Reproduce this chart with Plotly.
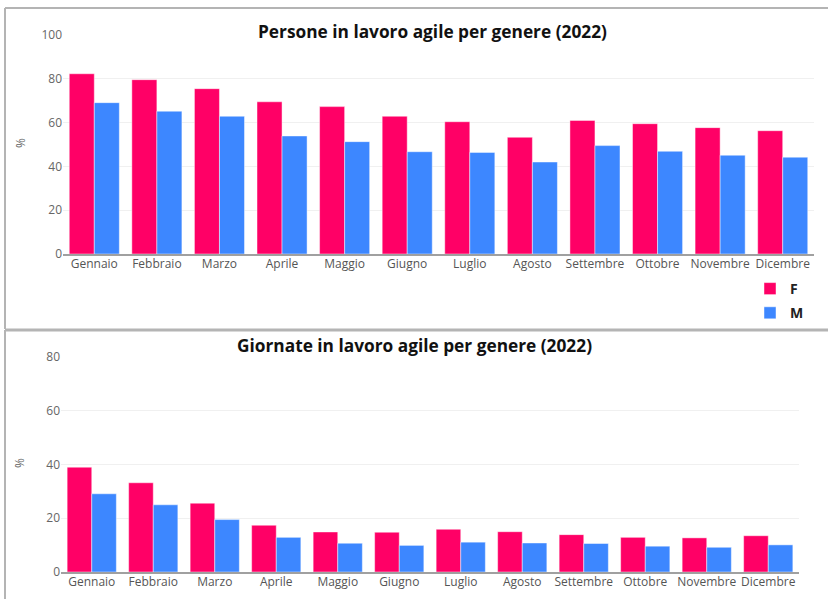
import plotly.graph_objects as go

# Dati
mesi = ["Gennaio", "Febbraio", "Marzo", "Aprile", "Maggio", "Giugno",
        "Luglio", "Agosto", "Settembre", "Ottobre", "Novembre", "Dicembre"]

persone_f = [82.3, 79.6, 75.5, 69.5, 67.3, 62.9, 60.4, 53.3, 61.0, 59.5, 57.7, 56.3]
persone_m = [69.1, 65.2, 62.9, 53.9, 51.3, 46.7, 46.4, 42.0, 49.5, 46.9, 45.1, 44.2]

giornate_f = [39.0, 33.2, 25.6, 17.4, 14.9, 14.8, 15.9, 15.0, 13.9, 12.9, 12.7, 13.5]
giornate_m = [29.1, 25.0, 19.5, 12.9, 10.7, 9.9, 11.1, 10.8, 10.6, 9.6, 9.2, 10.1]

COL_F = "#FF0066"
COL_M = "#3D87FF"
W, H = 828, 599


def px_x(p):
    return p / W


def px_y(p):
    return 1 - p / H


fig = go.Figure()

bar_line = dict(width=1, color="rgba(255,255,255,0.45)")

fig.add_trace(go.Bar(x=mesi, y=persone_f, name="F", marker=dict(color=COL_F, line=bar_line),
                     xaxis="x", yaxis="y", legendgroup="F"))
fig.add_trace(go.Bar(x=mesi, y=persone_m, name="M", marker=dict(color=COL_M, line=bar_line),
                     xaxis="x", yaxis="y", legendgroup="M"))
fig.add_trace(go.Bar(x=mesi, y=giornate_f, name="F", marker=dict(color=COL_F, line=bar_line),
                     xaxis="x2", yaxis="y2", showlegend=False, legendgroup="F"))
fig.add_trace(go.Bar(x=mesi, y=giornate_m, name="M", marker=dict(color=COL_M, line=bar_line),
                     xaxis="x2", yaxis="y2", showlegend=False, legendgroup="M"))

xaxis_style = dict(
    type="category",
    range=[-0.5, 11.5],
    showline=True, linecolor="#a0a0a0", linewidth=2,
    showgrid=False, ticks="",
    tickfont=dict(family="Open Sans", size=12, color="#555555"),
    ticklabelstandoff=-2,
    automargin=False,
    fixedrange=True,
)
yaxis_style = dict(
    showline=False, zeroline=False,
    showgrid=True, gridcolor="#f0f0f0", gridwidth=1,
    ticks="",
    tickfont=dict(family="Open Sans", size=12, color="#666666"),
    dtick=20,
    automargin=False,
    fixedrange=True,
)

fig.update_layout(
    width=W, height=H,
    margin=dict(l=0, r=0, t=0, b=0, autoexpand=False),
    paper_bgcolor="white", plot_bgcolor="white",
    barmode="group", bargap=0.2, bargroupgap=0,
    font=dict(family="Open Sans", color="#555555"),
    xaxis=dict(domain=[px_x(63), px_x(814)], anchor="y", **xaxis_style),
    yaxis=dict(domain=[px_y(254), px_y(35)], anchor="x", range=[0, 100], **yaxis_style),
    xaxis2=dict(domain=[px_x(61), px_x(799)], anchor="y2", **xaxis_style),
    yaxis2=dict(domain=[px_y(572), px_y(357)], anchor="x2", range=[0, 80], **yaxis_style),
    legend=dict(
        x=px_x(750), y=px_y(273), xanchor="left", yanchor="top",
        font=dict(family="Open Sans", size=14, color="#222222", weight="bold"),
        bgcolor="rgba(0,0,0,0)",
        tracegroupgap=3,
    ),
    annotations=[
        dict(text="<b>Persone in lavoro agile per genere (2022)</b>",
             x=px_x(432), y=px_y(31), xref="paper", yref="paper",
             xanchor="center", yanchor="middle", showarrow=False,
             font=dict(family="Open Sans", size=17.3, color="#111111")),
        dict(text="<b>Giornate in lavoro agile per genere (2022)</b>",
             x=px_x(414), y=px_y(345), xref="paper", yref="paper",
             xanchor="center", yanchor="middle", showarrow=False,
             font=dict(family="Open Sans", size=17.3, color="#111111")),
        dict(text="%", x=px_x(21), y=px_y(143), xref="paper", yref="paper",
             textangle=-90, showarrow=False, xanchor="center", yanchor="middle",
             font=dict(family="Open Sans", size=12, color="#666666")),
        dict(text="%", x=px_x(19), y=px_y(463), xref="paper", yref="paper",
             textangle=-90, showarrow=False, xanchor="center", yanchor="middle",
             font=dict(family="Open Sans", size=12, color="#666666")),
    ],
    shapes=[
        # cornice superiore
        dict(type="line", xref="paper", yref="paper", x0=px_x(5), x1=1.0,
             y0=px_y(8), y1=px_y(8), line=dict(color="#b4b4b4", width=2)),
        dict(type="line", xref="paper", yref="paper", x0=px_x(5), x1=px_x(5),
             y0=px_y(8), y1=px_y(329), line=dict(color="#b4b4b4", width=2)),
        dict(type="line", xref="paper", yref="paper", x0=px_x(5), x1=1.0,
             y0=px_y(330), y1=px_y(330), line=dict(color="#b4b4b4", width=3)),
        # cornice inferiore
        dict(type="line", xref="paper", yref="paper", x0=px_x(5), x1=px_x(5),
             y0=px_y(330), y1=0, line=dict(color="#b4b4b4", width=2)),
    ],
)

fig.write_html("out.html", config={"displayModeBar": False},
               post_script="document.body.style.margin='0';")
